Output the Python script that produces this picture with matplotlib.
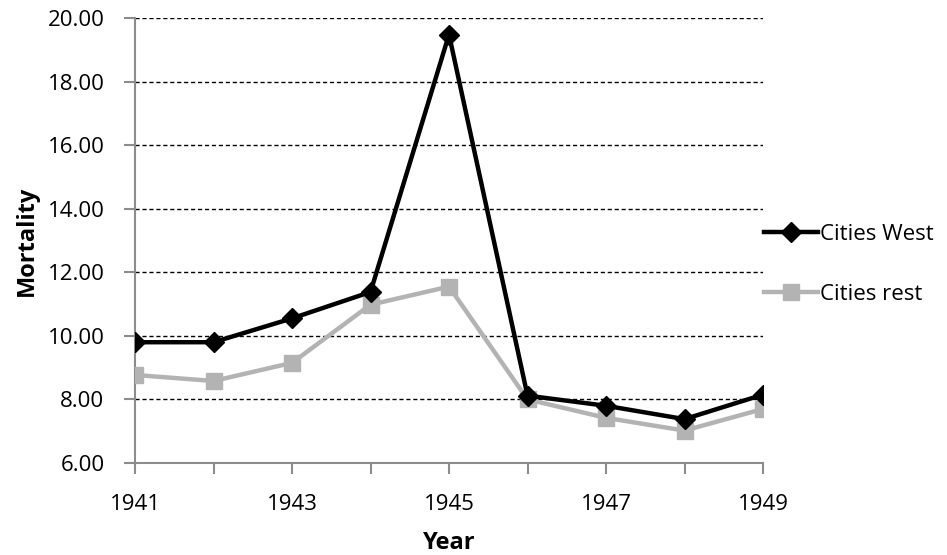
import matplotlib
matplotlib.use("Agg")
import matplotlib.pyplot as plt

years = [1941, 1942, 1943, 1944, 1945, 1946, 1947, 1948, 1949]
cities_west = [9.8, 9.8, 10.55, 11.38, 19.48, 8.12, 7.8, 7.38, 8.15]
cities_rest = [8.77, 8.58, 9.15, 10.98, 11.55, 8.0, 7.42, 7.02, 7.7]
y_ticks = [6, 8, 10, 12, 14, 16, 18, 20]
x_ticklabels = ["1941", "", "1943", "", "1945", "", "1947", "", "1949"]

plt.rcParams["font.family"] = ["Open Sans", "DejaVu Sans"]

fig = plt.figure(figsize=(9.47, 5.55), dpi=100)
ax = fig.add_axes([135 / 947, 1 - 463 / 555, (763 - 135) / 947, (463 - 18) / 555])

ax.plot(years, cities_west, color="black", linewidth=3.2, marker="D",
        markersize=10, label="Cities West", zorder=4)
ax.plot(years, cities_rest, color="#b3b3b3", linewidth=3.2, marker="s",
        markersize=12, label="Cities rest", zorder=3)

ax.set_xlim(1941, 1949)
ax.set_ylim(6, 20)
ax.set_xticks(years)
ax.set_xticklabels(x_ticklabels)
ax.set_yticks(y_ticks)
ax.set_yticklabels([f"{v:.2f}" for v in y_ticks])

ax.grid(axis="y", color="black", linestyle=(0, (3, 2)), linewidth=1.0)
ax.set_axisbelow(True)
for s in ("top", "right"):
    ax.spines[s].set_visible(False)
for s in ("left", "bottom"):
    ax.spines[s].set_color("#8c8c8c")
    ax.spines[s].set_linewidth(1.5)
ax.tick_params(axis="both", colors="#8c8c8c", length=8, width=1.5,
               labelcolor="black", labelsize=16)
ax.tick_params(axis="x", pad=14)
ax.tick_params(axis="y", pad=14)

ax.set_xlabel("Year", fontsize=17, fontweight="bold", labelpad=12)
ax.set_ylabel("Mortality", fontsize=17, fontweight="bold", labelpad=6)

ax.legend(loc="center left", bbox_to_anchor=(1.002, 0.447), frameon=False,
          fontsize=16, handlelength=2.4, handletextpad=0.1,
          labelspacing=1.75, borderaxespad=0.0, borderpad=0.0)

fig.savefig("out.png", dpi=100)
